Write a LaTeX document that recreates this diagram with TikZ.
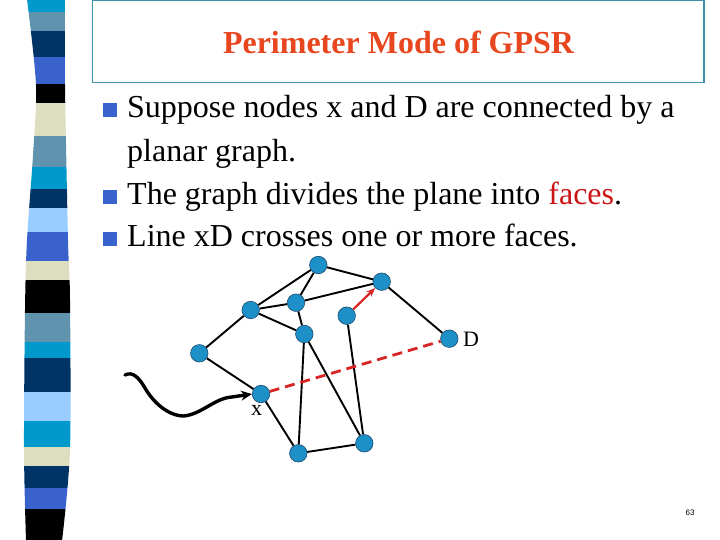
\documentclass[tikz,border=0pt]{standalone}
\usepackage{fontspec}
\setmainfont{Liberation Serif}
\newfontfamily\pnfont{Liberation Sans}
\usetikzlibrary{arrows.meta}
\definecolor{cyanb}{HTML}{0099CC}
\definecolor{steelb}{HTML}{6093AD}
\definecolor{navyb}{HTML}{003366}
\definecolor{royalb}{HTML}{3A62CC}
\definecolor{beigeb}{HTML}{DDDDC0}
\definecolor{lightb}{HTML}{99CCFF}
\definecolor{boxteal}{HTML}{3E8FAA}
\definecolor{titlered}{HTML}{E8461E}
\definecolor{facered}{HTML}{CC1515}
\definecolor{dashred}{HTML}{D82424}
\definecolor{nodeblue}{HTML}{1E90C8}
\definecolor{nodeedge}{HTML}{1C4A6E}
\definecolor{bulblue}{HTML}{3A62CC}
\tikzset{
  gnode/.style={circle, fill=nodeblue, draw=nodeedge, line width=0.6pt, minimum size=17.5pt, inner sep=0pt},
  gedge/.style={line width=1.9pt, black},
  btext/.style={anchor=base west, inner sep=0pt, font=\fontsize{32}{38}\selectfont},
  bul/.style={fill=bulblue, minimum size=14pt, inner sep=0pt, anchor=south west},
  lbl/.style={inner sep=0pt, font=\fontsize{22}{26}\selectfont}
}
\begin{document}
\begin{tikzpicture}[x=1pt,y=-1pt]
\useasboundingbox (0,0) rectangle (720,540);
\fill[white] (0,0) rectangle (720,540);
% left stripe
\begin{scope}
\clip plot[smooth] coordinates {(27,-1) (36,85) (33,155) (27,240) (25,310) (24,450) (26,541)} -- plot[smooth] coordinates {(62,541) (70,450) (70,300) (68,240) (65,85) (65,-1)} -- cycle;
\fill[cyanb] (0,-1) rectangle (80,12);
\fill[steelb] (0,12) rectangle (80,31);
\fill[navyb] (0,31) rectangle (80,57);
\fill[royalb] (0,57) rectangle (80,84);
\fill[black] (0,84) rectangle (80,103);
\fill[beigeb] (0,103) rectangle (80,136);
\fill[steelb] (0,136) rectangle (80,167);
\fill[cyanb] (0,167) rectangle (80,189);
\fill[navyb] (0,189) rectangle (80,208);
\fill[lightb] (0,208) rectangle (80,232);
\fill[royalb] (0,232) rectangle (80,261);
\fill[beigeb] (0,261) rectangle (80,280);
\fill[black] (0,280) rectangle (80,313);
\fill[steelb] (0,313) rectangle (80,342);
\fill[cyanb] (0,342) rectangle (80,358);
\fill[navyb] (0,358) rectangle (80,392);
\fill[lightb] (0,392) rectangle (80,421);
\fill[cyanb] (0,421) rectangle (80,447);
\fill[beigeb] (0,447) rectangle (80,466);
\fill[navyb] (0,466) rectangle (80,488);
\fill[royalb] (0,488) rectangle (80,509);
\fill[black] (0,509) rectangle (80,541);
\end{scope}
% title
\draw[boxteal, line width=1.4pt] (92.5,0.5) rectangle (704,82.5);
\node[anchor=base, inner sep=0pt, text=titlered, font=\fontsize{32}{38}\selectfont\bfseries] (title) at (398.5,53.5) {Perimeter Mode of GPSR};
% bullets
\node[bul] (b1) at (102.5,117) {};
\node[btext] (t1) at (127,118) {Suppose nodes x and D are connected by a};
\node[btext] (t2) at (127,161.5) {planar graph.};
\node[bul] (b2) at (102.5,204) {};
\node[btext] (t3) at (127,205) {The graph divides the plane into \textcolor{facered}{faces}.};
\node[bul] (b3) at (102.5,246) {};
\node[btext] (t4) at (127,247) {Line xD crosses one or more faces.};
% graph
\node[gnode] (top) at (318.3,265) {};
\node[gnode] (rt) at (381.7,281.7) {};
\node[gnode] (lu) at (250.7,310) {};
\node[gnode] (mu) at (296,302.7) {};
\node[gnode] (m) at (304.3,334) {};
\node[gnode] (in) at (346.7,315.7) {};
\node[gnode] (d) at (449.3,338.7) {};
\node[gnode] (l) at (199.3,353.3) {};
\node[gnode] (x) at (261,394) {};
\node[gnode] (bl) at (298.3,453.3) {};
\node[gnode] (br) at (364.3,443.3) {};
\draw[gedge] (top) -- (rt);
\draw[gedge] (top) -- (lu);
\draw[gedge] (top) -- (mu);
\draw[gedge] (rt) -- (mu);
\draw[gedge] (rt) -- (d);
\draw[gedge] (lu) -- (mu);
\draw[gedge] (lu) -- (m);
\draw[gedge] (mu) -- (m);
\draw[gedge] (lu) -- (l);
\draw[gedge] (l) -- (x);
\draw[gedge] (x) -- (bl);
\draw[gedge] (m) -- (bl);
\draw[gedge] (m) -- (br);
\draw[gedge] (in) -- (br);
\draw[gedge] (bl) -- (br);
\draw[dashred, line width=2.8pt, dash pattern=on 10pt off 6pt] (x) -- (d);
\draw[dashred, line width=2.2pt, -{Stealth[length=9pt,width=7pt]}] (in) -- (rt);
\node[lbl] (dl) at (471,339) {D};
\node[lbl] (xl) at (256.7,410) {x};
% curvy arrow
\coordinate (cs) at (125,375);
\draw[black, line width=3.4pt, line cap=round, -{Stealth[length=11pt,width=10pt]}] (cs) .. controls (133,371) and (139,378) .. (145,388) .. controls (153,402) and (168,416) .. (184,416) .. controls (202,414) and (215,398) .. (232,397) -- (x.west);
% page number
\node[inner sep=0pt, font=\pnfont\fontsize{8}{9}\selectfont] (pn) at (690,513) {63};
\end{tikzpicture}
\end{document}
